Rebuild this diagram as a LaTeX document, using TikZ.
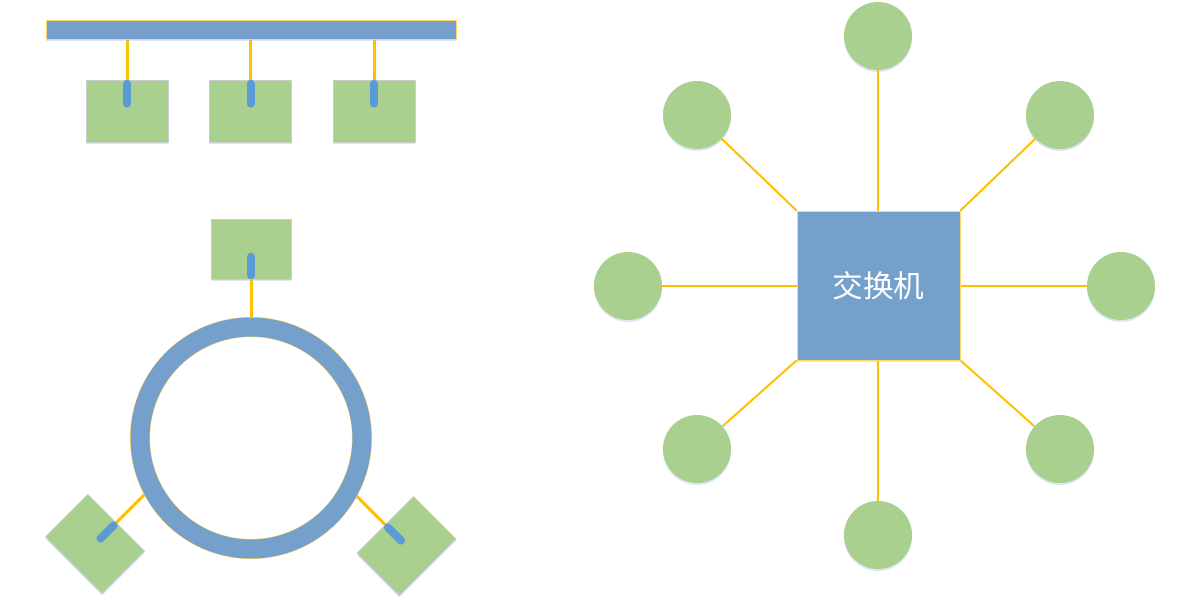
\documentclass[tikz,border=0pt]{standalone}
\usepackage{fontspec}
\newfontfamily\cjkfont{Noto Sans CJK SC}
\usetikzlibrary{calc,backgrounds,shadows}
\definecolor{netblue}{HTML}{75A0CB}
\definecolor{pillblue}{HTML}{5B9BD5}
\definecolor{nodegreen}{HTML}{A9D08E}
\definecolor{wire}{HTML}{FFC000}
\definecolor{edgeyellow}{HTML}{FFD966}
\definecolor{shadowblue}{HTML}{9DB8E0}
\tikzset{
  softshadow/.style={drop shadow={shadow xshift=0pt, shadow yshift=-1.5pt, fill=shadowblue, opacity=0.35}},
  busbar/.style={rectangle, fill=netblue, draw=edgeyellow, line width=0.5pt, minimum width=307.5pt, minimum height=14.25pt, inner sep=0pt, softshadow},
  hostbox/.style={rectangle, fill=nodegreen, draw=black!20, line width=0.5pt, minimum width=61.5pt, minimum height=46.5pt, inner sep=0pt, softshadow},
  ringbox/.style={rectangle, fill=nodegreen, draw=black!20, line width=0.5pt, minimum width=60pt, minimum height=45pt, inner sep=0pt, softshadow},
  ringbody/.style={circle, draw=edgeyellow, line width=0.4pt, double=netblue, double distance=14.25pt, minimum size=166.5pt, inner sep=0pt},
  switchbox/.style={rectangle, fill=netblue, draw=edgeyellow, line width=0.5pt, minimum width=122.25pt, minimum height=111.75pt, inner sep=0pt, softshadow, text=white, font=\cjkfont\fontsize{23}{27}\selectfont},
  pc/.style={circle, fill=nodegreen, minimum size=51pt, inner sep=0pt, softshadow},
  pill/.style={draw=pillblue, line width=6pt, line cap=round},
  wireline/.style={draw=wire, line width=2.25pt},
  starline/.style={draw=wire, line width=1.5pt},
}
\begin{document}
\begin{tikzpicture}[x=0.75pt,y=-0.75pt]
\useasboundingbox (0,0) rectangle (1177,608);
% ---------- bus ----------
\node[busbar] (bus) at (251,29.5) {};
\node[hostbox] (b1) at (127,111) {};
\node[hostbox] (b2) at (250.5,111) {};
\node[hostbox] (b3) at (374,111) {};
\begin{scope}[on background layer]
\foreach \b in {b1,b2,b3}{
  \draw[wireline] (\b.north) -- (\b.north |- bus.south);
}
\end{scope}
\foreach \b in {b1,b2,b3}{
  \draw[pill] ($(\b.north)!3pt!(\b.center)$) -- ($(\b.north)!18pt!(\b.center)$);
}
% ---------- ring ----------
\node[ringbody] (ring) at (251,438) {};
\node[ringbox] (r0) at (251,249) {};
\node[ringbox, rotate=-45] (r1) at (95,544) {};
\node[ringbox, rotate=45] (r2) at (406.5,546) {};
\coordinate (r1end) at ($(r1.north)!-36pt!(r1.center)$);
\coordinate (r2end) at ($(r2.north)!-36pt!(r2.center)$);
\begin{scope}[on background layer]
\draw[wireline] (r0.south) -- (ring.north);
\draw[wireline] (r1.north) -- (r1end);
\draw[wireline] (r2.north) -- (r2end);
\end{scope}
\draw[pill] ($(r0.south)!3pt!(r0.center)$) -- ($(r0.south)!17pt!(r0.center)$);
\draw[pill] ($(r1.north)!3pt!(r1.center)$) -- ($(r1.north)!17pt!(r1.center)$);
\draw[pill] ($(r2.north)!3pt!(r2.center)$) -- ($(r2.north)!17pt!(r2.center)$);
% ---------- star ----------
\node[switchbox] (sw) at (878.5,285.5) {交换机};
\node[pc] (cN)  at (878,36) {};
\node[pc] (cNW) at (697,115) {};
\node[pc] (cNE) at (1060,115) {};
\node[pc] (cW)  at (628,286) {};
\node[pc] (cE)  at (1121,286) {};
\node[pc] (cSW) at (697,449) {};
\node[pc] (cSE) at (1060,449) {};
\node[pc] (cS)  at (878,535) {};
\begin{scope}[on background layer]
\draw[starline] (cN) -- (cN |- sw.north);
\draw[starline] (cS) -- (cS |- sw.south);
\draw[starline] (cW) -- (cW -| sw.west);
\draw[starline] (cE) -- (cE -| sw.east);
\draw[starline] (cNW) -- (sw.north west);
\draw[starline] (cNE) -- (sw.north east);
\draw[starline] (cSW) -- (sw.south west);
\draw[starline] (cSE) -- (sw.south east);
\end{scope}
\end{tikzpicture}
\end{document}
